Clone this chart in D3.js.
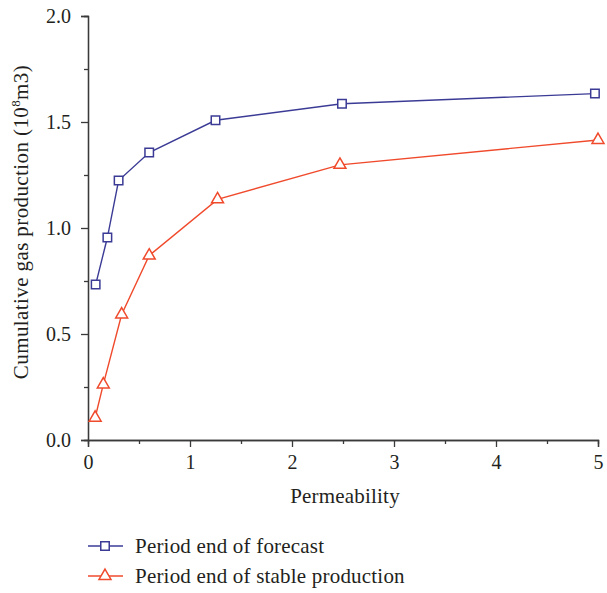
<!DOCTYPE html>
<html>
<head>
<meta charset="utf-8">
<script src="https://cdn.jsdelivr.net/npm/d3@7"></script>
<style>
  body { margin: 0; background: #fff; }
  text { font-family: "Liberation Serif", "Times New Roman", serif; fill: #231f20; }
</style>
</head>
<body>
<div id="chart"></div>
<script>
var MARGIN = {TOP: 16, RIGHT: 9, BOTTOM: 153, LEFT: 88},
    WIDTH = 607 - MARGIN.LEFT - MARGIN.RIGHT,
    HEIGHT = 593 - MARGIN.TOP - MARGIN.BOTTOM;

// values
var forecast_x = [0.075, 0.19, 0.30, 0.60, 1.25, 2.49, 4.97]
var forecast_y = [0.733, 0.955, 1.224, 1.356, 1.508, 1.586, 1.634]
var stable_x = [0.07, 0.15, 0.33, 0.60, 1.27, 2.47, 5.0]
var stable_y = [0.105, 0.262, 0.592, 0.870, 1.135, 1.298, 1.415]
var x_ticks = [0, 1, 2, 3, 4, 5]
var y_ticks = [0, 0.5, 1, 1.5, 2]
var series_names = ["Period end of forecast", "Period end of stable production"]

var BLUE = "#3b3b96", RED = "#f04a2c", AXIS = "#3a3a3a"

var svg = d3.select("#chart").append("svg")
  .attr("width", 607)
  .attr("height", 593)

var g = svg.append("g")
  .attr("transform", `translate(${MARGIN.LEFT}, ${MARGIN.TOP})`)

var x = d3.scaleLinear().domain([0, 5]).range([0, WIDTH])
var y = d3.scaleLinear().domain([0, 2]).range([HEIGHT, 0])

// minor ticks first, then major ones with labels
g.append("g")
  .attr("transform", `translate(0, ${HEIGHT})`)
  .call(d3.axisBottom(x).tickValues(d3.range(0.5, 5, 1)).tickSize(4).tickFormat(""))
g.append("g")
  .call(d3.axisLeft(y).tickValues(d3.range(0.25, 2, 0.5)).tickSize(4).tickFormat(""))

var xAxis = g.append("g")
  .attr("transform", `translate(0, ${HEIGHT})`)
  .call(d3.axisBottom(x).tickValues(x_ticks).tickSize(7).tickPadding(8).tickFormat(d3.format("d")))
var yAxis = g.append("g")
  .call(d3.axisLeft(y).tickValues(y_ticks).tickSize(7).tickPadding(10).tickFormat(d3.format(".1f")))

g.selectAll(".domain").attr("stroke", AXIS).attr("stroke-width", 1.3)
g.selectAll(".tick line").attr("stroke", AXIS).attr("stroke-width", 1.3)
g.selectAll(".tick text").style("font-size", "20px").attr("fill", "#231f20")
  .style("font-family", '"Liberation Serif", serif')

// axis titles
g.append("text")
  .attr("x", WIDTH / 2 + 2)
  .attr("y", HEIGHT + 63)
  .attr("text-anchor", "middle")
  .style("font-size", "21px")
  .style("letter-spacing", "0.2px")
  .text("Permeability")

var ytitle = g.append("text")
  .attr("transform", `translate(-60, ${HEIGHT / 2 - 6}) rotate(-90)`)
  .attr("text-anchor", "middle")
  .style("font-size", "21px")
  .style("letter-spacing", "0.4px")
ytitle.append("tspan").text("Cumulative gas production (10")
ytitle.append("tspan").attr("dy", -8).style("font-size", "13px").text("8")
ytitle.append("tspan").attr("dy", 8).text("m3)")

var line = d3.line().x(d => x(d[0])).y(d => y(d[1]))
var square = d3.symbol().type(d3.symbolSquare).size(72)
var triangle = d3.symbol().type(d3.symbolTriangle).size(62)

function draw_series(xs, ys, color, sym){
  var pts = xs.map((v, i) => [v, ys[i]])
  g.append("path")
    .datum(pts)
    .attr("fill", "none")
    .attr("stroke", color)
    .attr("stroke-width", 1.4)
    .attr("d", line)
  g.selectAll(null)
    .data(pts)
    .enter()
    .append("path")
    .attr("d", sym)
    .attr("transform", d => `translate(${x(d[0])}, ${y(d[1])})`)
    .attr("fill", "white")
    .attr("stroke", color)
    .attr("stroke-width", 1.5)
}

draw_series(forecast_x, forecast_y, BLUE, square)
draw_series(stable_x, stable_y, RED, triangle)

// legend
var legend = svg.append("g").attr("transform", "translate(88, 546)")
var legend_items = [
  {name: series_names[0], color: BLUE, sym: square},
  {name: series_names[1], color: RED, sym: triangle}
]
legend_items.forEach(function(d, i){
  var row = legend.append("g").attr("transform", `translate(0, ${i * 30})`)
  row.append("line")
    .attr("x1", 0).attr("x2", 35)
    .attr("stroke", d.color).attr("stroke-width", 1.4)
  row.append("path")
    .attr("d", d.sym)
    .attr("transform", "translate(17, 0)")
    .attr("fill", "white")
    .attr("stroke", d.color)
    .attr("stroke-width", 1.5)
  row.append("text")
    .attr("x", 47)
    .attr("y", 7)
    .style("font-size", "21px")
    .style("letter-spacing", "0.2px")
    .text(d.name)
})
</script>
</body>
</html>
